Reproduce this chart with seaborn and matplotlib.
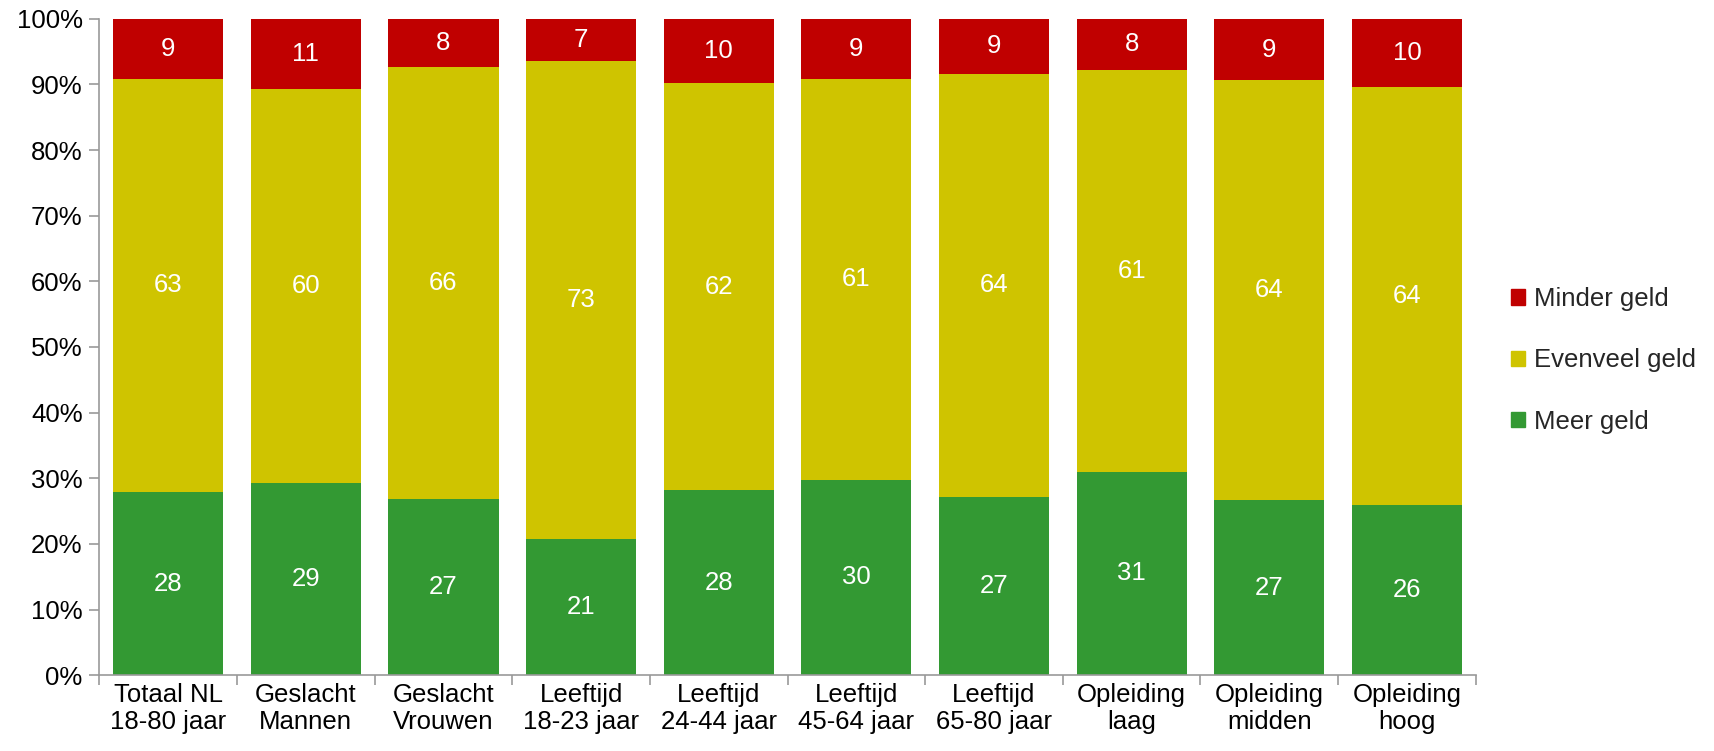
import numpy as np
import pandas as pd
import matplotlib
matplotlib.use('Agg')
import matplotlib.pyplot as plt
import seaborn as sns
from matplotlib.patches import Patch
from matplotlib.ticker import FixedLocator

categories = ['Totaal NL\n18-80 jaar', 'Geslacht\nMannen', 'Geslacht\nVrouwen',
              'Leeftijd\n18-23 jaar', 'Leeftijd\n24-44 jaar', 'Leeftijd\n45-64 jaar',
              'Leeftijd\n65-80 jaar', 'Opleiding\nlaag', 'Opleiding\nmidden', 'Opleiding\nhoog']

# shares (percent)
meer = [27.9, 29.2, 26.8, 20.7, 28.2, 29.8, 27.2, 31.0, 26.7, 25.9]
evenveel = [63.0, 60.1, 65.8, 72.9, 62.0, 61.0, 64.4, 61.2, 63.9, 63.7]
minder = [9.1, 10.7, 7.4, 6.4, 9.8, 9.2, 8.4, 7.8, 9.4, 10.4]

# printed labels
meer_lab = [28, 29, 27, 21, 28, 30, 27, 31, 27, 26]
evenveel_lab = [63, 60, 66, 73, 62, 61, 64, 61, 64, 64]
minder_lab = [9, 11, 8, 7, 10, 9, 9, 8, 9, 10]

green = '#339933'
yellow = '#CFC400'
red = '#C00000'
fs = 18.5

sns.set_style('white')
plt.rcParams['font.family'] = ['Liberation Sans', 'DejaVu Sans']

df = pd.DataFrame({'cat': categories, 'meer': meer, 'evenveel': evenveel, 'minder': minder})
df['top_even'] = df['meer'] + df['evenveel']
df['top_minder'] = df['top_even'] + df['minder']

fig = plt.figure(figsize=(17.14, 7.51), dpi=100)
ax = fig.add_axes([0.058, 0.101, 0.803, 0.874])

sns.barplot(data=df, x='cat', y='top_minder', color=red, width=0.8, ax=ax,
            saturation=1, linewidth=0)
sns.barplot(data=df, x='cat', y='top_even', color=yellow, width=0.8, ax=ax,
            saturation=1, linewidth=0)
sns.barplot(data=df, x='cat', y='meer', color=green, width=0.8, ax=ax,
            saturation=1, linewidth=0)

for i in range(len(df)):
    ax.text(i, df['meer'][i] / 2, str(meer_lab[i]), ha='center', va='center',
            color='white', fontsize=fs)
    ax.text(i, df['meer'][i] + df['evenveel'][i] / 2, str(evenveel_lab[i]),
            ha='center', va='center', color='white', fontsize=fs)
    ax.text(i, df['top_even'][i] + df['minder'][i] / 2, str(minder_lab[i]),
            ha='center', va='center', color='white', fontsize=fs)

ax.set_ylim(0, 100)
ax.set_xlim(-0.5, len(df) - 0.5)
ax.set_yticks(np.arange(0, 101, 10))
ax.set_yticklabels([f'{v}%' for v in range(0, 101, 10)], fontsize=fs)
ax.set_xticklabels(categories, fontsize=fs, linespacing=1.15)
ax.set_xlabel('')
ax.set_ylabel('')

ax.xaxis.set_minor_locator(FixedLocator(np.arange(-0.5, len(df), 1)))
ax.tick_params(axis='x', which='major', bottom=True, length=0, pad=6)
ax.tick_params(axis='x', which='minor', bottom=True, length=7, width=1.2,
               color='#999999', direction='out')
ax.tick_params(axis='y', left=True, length=7, width=1.2, color='#999999',
               direction='out', pad=5)
ax.tick_params(axis='both', labelcolor='black')

for s in ['top', 'right']:
    ax.spines[s].set_visible(False)
for s in ['left', 'bottom']:
    ax.spines[s].set_color('#999999')
    ax.spines[s].set_linewidth(1.2)

handles = [Patch(color=red, label='Minder geld'),
           Patch(color=yellow, label='Evenveel geld'),
           Patch(color=green, label='Meer geld')]
fig.legend(handles=handles, loc='center left', bbox_to_anchor=(0.868, 0.52),
           frameon=False, fontsize=fs, handlelength=0.55, handleheight=0.55,
           handletextpad=0.35, labelspacing=1.45)

fig.savefig('out.png', dpi=100)
